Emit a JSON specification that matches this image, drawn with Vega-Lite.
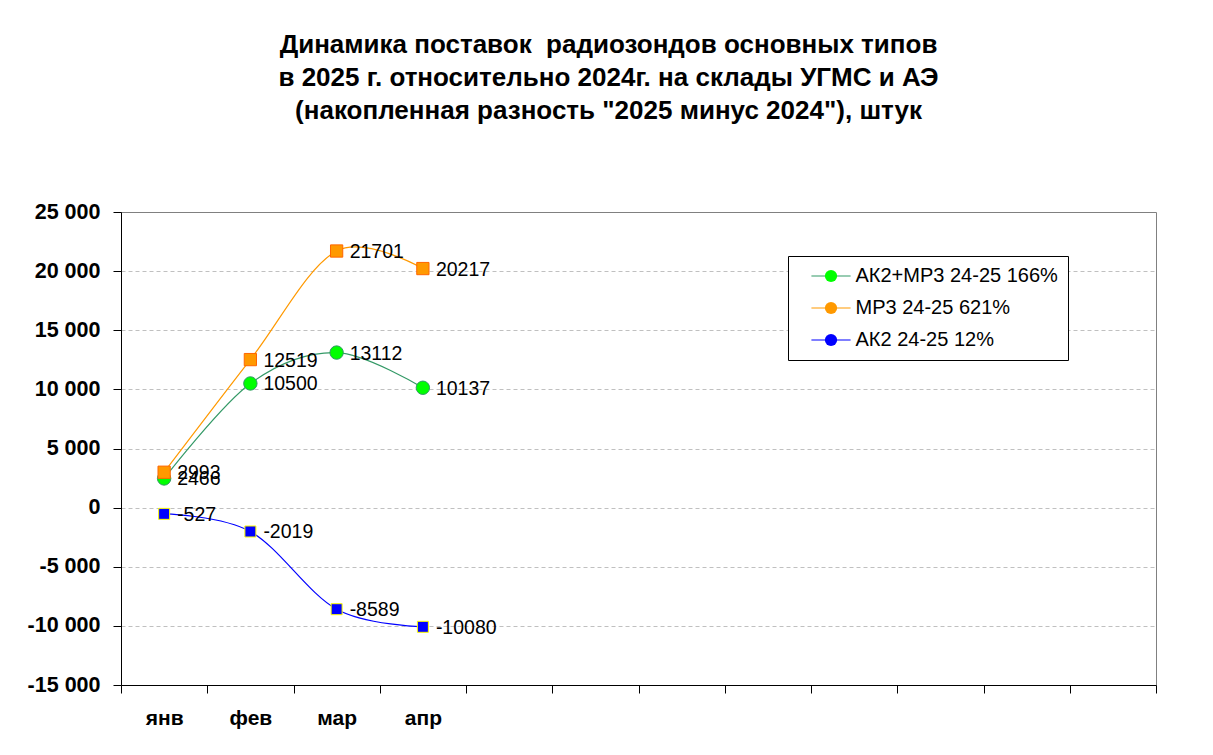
{
  "$schema": "https://vega.github.io/schema/vega-lite/v6.json",
  "width": 1035,
  "height": 473,
  "autosize": {"type": "none"},
  "padding": {"left": 121, "top": 212, "right": 57, "bottom": 70},
  "background": "white",
  "title": {
    "text": [
      "Динамика поставок \u00a0радиозондов основных типов",
      "в 2025 г. относительно 2024г. на склады УГМС и АЭ",
      "(накопленная разность \"2025 минус 2024\"), штук"
    ],
    "anchor": "middle",
    "dx": -30,
    "offset": 77,
    "font": "Liberation Sans",
    "fontSize": 26,
    "fontWeight": "bold",
    "lineHeight": 33,
    "color": "black"
  },
  "data": {
    "values": [
      {"month": "янв", "series": "АК2+МР3 24-25 166%", "value": 2466},
      {"month": "фев", "series": "АК2+МР3 24-25 166%", "value": 10500},
      {"month": "мар", "series": "АК2+МР3 24-25 166%", "value": 13112},
      {"month": "апр", "series": "АК2+МР3 24-25 166%", "value": 10137},
      {"month": "янв", "series": "МР3 24-25 621%", "value": 2993},
      {"month": "фев", "series": "МР3 24-25 621%", "value": 12519},
      {"month": "мар", "series": "МР3 24-25 621%", "value": 21701},
      {"month": "апр", "series": "МР3 24-25 621%", "value": 20217},
      {"month": "янв", "series": "АК2 24-25 12%", "value": -527},
      {"month": "фев", "series": "АК2 24-25 12%", "value": -2019},
      {"month": "мар", "series": "АК2 24-25 12%", "value": -8589},
      {"month": "апр", "series": "АК2 24-25 12%", "value": -10080}
    ]
  },
  "encoding": {
    "x": {
      "field": "month",
      "type": "nominal",
      "title": null,
      "scale": {
        "domain": ["янв", "фев", "мар", "апр", "май", "июн", "июл", "авг", "сен", "окт", "ноя", "дек"],
        "paddingInner": 0,
        "paddingOuter": 0
      },
      "axis": {
        "labelAngle": 0,
        "tickBand": "extent",
        "labelExpr": "indexof(['янв','фев','мар','апр'], datum.value) >= 0 ? datum.value : ''",
        "labelFont": "Liberation Sans",
        "labelFontSize": 21,
        "labelFontWeight": "bold",
        "labelColor": "black",
        "labelPadding": 14,
        "tickSize": 8,
        "tickColor": "black",
        "domainColor": "black",
        "grid": false
      }
    },
    "y": {
      "field": "value",
      "type": "quantitative",
      "title": null,
      "scale": {"domain": [-15000, 25000], "nice": false, "zero": false},
      "axis": {
        "values": [-15000, -10000, -5000, 0, 5000, 10000, 15000, 20000, 25000],
        "labelExpr": "(datum.value < 0 ? '-' : '') + replace(format(abs(datum.value), ','), ',', ' ')",
        "labelFont": "Liberation Sans",
        "labelFontSize": 21.5,
        "labelFontWeight": "bold",
        "labelColor": "black",
        "labelPadding": 13,
        "tickSize": 8,
        "tickColor": "black",
        "domainColor": "black",
        "grid": true,
        "gridColor": "#c0c0c0",
        "gridDash": [4, 3],
        "gridOpacity": {
          "condition": {"test": "datum.value === 25000 || datum.value === -15000", "value": 0},
          "value": 1
        }
      }
    }
  },
  "layer": [
    {
      "mark": {"type": "line", "interpolate": "cardinal", "strokeWidth": 1.2},
      "encoding": {
        "color": {
          "field": "series",
          "type": "nominal",
          "scale": {
            "domain": ["АК2+МР3 24-25 166%", "МР3 24-25 621%", "АК2 24-25 12%"],
            "range": ["#339966", "#FF9900", "#0000FF"]
          },
          "legend": {
            "orient": "none",
            "legendX": 667,
            "legendY": 44,
            "title": null,
            "symbolType": "M-3.2,0H3.2",
            "symbolSize": 150,
            "symbolStrokeWidth": 1.2,
            "symbolOffset": 23,
            "labelFont": "Liberation Sans",
            "labelFontSize": 20,
            "labelColor": "black",
            "labelLimit": 400,
            "labelOffset": 14.5,
            "rowPadding": 12,
            "padding": 10,
            "strokeColor": "black",
            "fillColor": "white"
          }
        }
      }
    },
    {
      "mark": {"type": "point", "filled": true, "opacity": 1, "strokeWidth": 1},
      "encoding": {
        "fill": {
          "field": "series",
          "type": "nominal",
          "sort": ["АК2+МР3 24-25 166%", "МР3 24-25 621%", "АК2 24-25 12%"],
          "scale": {"range": ["#00FF00", "#FF9900", "#0000FF"]},
          "legend": {
            "orient": "none",
            "legendX": 667,
            "legendY": 44,
            "title": null,
            "symbolSize": 150,
            "symbolStrokeWidth": 1,
            "symbolOffset": 23,
            "labelFont": "Liberation Sans",
            "labelFontSize": 20,
            "labelOpacity": 0,
            "labelLimit": 400,
            "labelOffset": 14.5,
            "rowPadding": 12,
            "padding": 10,
            "encode": {
              "symbols": {
                "shape": {"value": {"expr": "scale('shape', datum.value)"}},
                "stroke": {"value": {"expr": "scale('stroke', datum.value)"}},
                "strokeWidth": {"value": 1},
                "opacity": {"value": 1}
              }
            }
          }
        },
        "stroke": {
          "field": "series",
          "type": "nominal",
          "sort": ["АК2+МР3 24-25 166%", "МР3 24-25 621%", "АК2 24-25 12%"],
          "scale": {"range": ["#339966", "#FF6600", "#FFFF00"]},
          "legend": null
        },
        "shape": {
          "field": "series",
          "type": "nominal",
          "sort": ["АК2+МР3 24-25 166%", "МР3 24-25 621%", "АК2 24-25 12%"],
          "scale": {"range": ["circle", "square", "square"]},
          "legend": null
        },
        "size": {
          "field": "series",
          "type": "nominal",
          "sort": ["АК2+МР3 24-25 166%", "МР3 24-25 621%", "АК2 24-25 12%"],
          "scale": {"range": [180, 121, 121]},
          "legend": null
        }
      }
    },
    {
      "mark": {
        "type": "text",
        "align": "left",
        "baseline": "middle",
        "dx": 13,
        "dy": 1,
        "font": "Liberation Sans",
        "fontSize": 19.5,
        "color": "black"
      },
      "encoding": {
        "text": {"field": "value", "type": "nominal"}
      }
    }
  ],
  "config": {
    "view": {"stroke": "#808080", "strokeWidth": 1},
    "axis": {"domainWidth": 1, "tickWidth": 1}
  }
}
